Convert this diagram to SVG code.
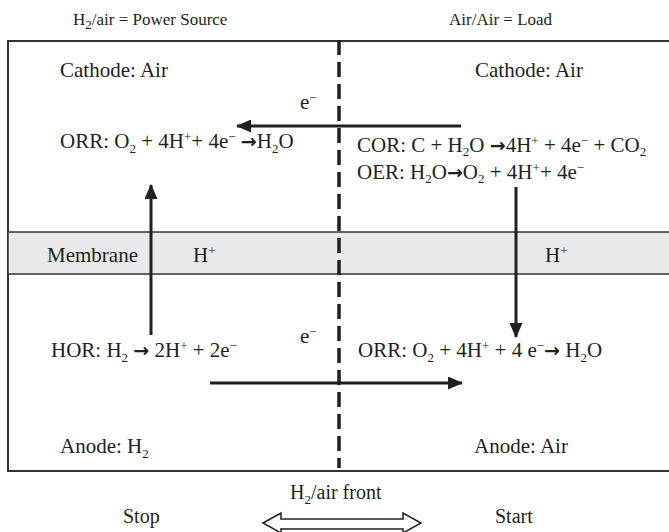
<svg xmlns="http://www.w3.org/2000/svg" width="669" height="532" viewBox="0 0 669 532">
<style>
text{font-family:"Liberation Serif","Times New Roman",serif;font-size:21px;fill:#231f20}
.top{font-size:17px}
.bot{font-size:20px}
.sm{font-size:13px}
.ar{font-family:"DejaVu Sans",sans-serif;font-size:19px;font-weight:bold}
.ln{stroke:#231f20;stroke-width:3;fill:none}
</style>
<defs>
<marker id="ah" markerUnits="userSpaceOnUse" markerWidth="15" markerHeight="13" refX="14" refY="6.5" orient="auto">
<path d="M0,0 L15,6.5 L0,13 z" fill="#231f20"/>
</marker>
</defs>
<rect width="669" height="532" fill="#fff"/>
<g id="frame">
<rect x="8" y="41" width="665" height="430" fill="#fff" stroke="#333" stroke-width="2"/>
</g>
<g id="membrane">
<rect x="8" y="232" width="665" height="42" fill="#e9e9eb" stroke="#333" stroke-width="1.5"/>
<text x="47" y="262">Membrane</text>
<text x="193" y="262">H<tspan class="sm" dy="-7">+</tspan></text>
<text x="545" y="262">H<tspan class="sm" dy="-7">+</tspan></text>
</g>
<g id="headers">
<text class="top" x="73" y="25">H<tspan class="sm" dy="4">2</tspan><tspan dy="-4">/air = Power Source</tspan></text>
<text class="top" x="449" y="25">Air/Air = Load</text>
</g>
<g id="cathode-left">
<text x="60" y="77">Cathode: Air</text>
<text x="60" y="148">ORR: O<tspan class="sm" dy="5">2</tspan><tspan dy="-5"> + 4H</tspan><tspan class="sm" dy="-7">+</tspan><tspan dy="7">+ 4e</tspan><tspan class="sm" dy="-7">−</tspan><tspan dy="7"> </tspan><tspan class="ar">→</tspan>H<tspan class="sm" dy="5">2</tspan><tspan dy="-5">O</tspan></text>
</g>
<g id="cathode-right">
<text x="475" y="77">Cathode: Air</text>
<text x="357" y="152">COR: C + H<tspan class="sm" dy="4">2</tspan><tspan dy="-4">O </tspan><tspan class="ar">→</tspan>4H<tspan class="sm" dy="-7">+</tspan><tspan dy="7"> + 4e</tspan><tspan class="sm" dy="-7">−</tspan><tspan dy="7"> + CO</tspan><tspan class="sm" dy="4">2</tspan></text>
<text x="357" y="179">OER: H<tspan class="sm" dy="4">2</tspan><tspan dy="-4">O</tspan><tspan class="ar">→</tspan>O<tspan class="sm" dy="4">2</tspan><tspan dy="-4"> + 4H</tspan><tspan class="sm" dy="-7">+</tspan><tspan dy="7">+ 4e</tspan><tspan class="sm" dy="-7">−</tspan></text>
</g>
<g id="anode-left">
<text x="51" y="357">HOR: H<tspan class="sm" dy="5">2</tspan><tspan dy="-5"> </tspan><tspan class="ar">→</tspan> 2H<tspan class="sm" dy="-7">+</tspan><tspan dy="7"> + 2e</tspan><tspan class="sm" dy="-7">−</tspan></text>
<text x="60" y="453">Anode: H<tspan class="sm" dy="5">2</tspan></text>
</g>
<g id="anode-right">
<text x="358" y="357">ORR: O<tspan class="sm" dy="5">2</tspan><tspan dy="-5"> + 4H</tspan><tspan class="sm" dy="-7">+</tspan><tspan dy="7"> + 4 e</tspan><tspan class="sm" dy="-7">−</tspan><tspan class="ar" dy="7">→</tspan> H<tspan class="sm" dy="5">2</tspan><tspan dy="-5">O</tspan></text>
<text x="474" y="453">Anode: Air</text>
</g>
<g id="labels-e">
<text x="300" y="109">e<tspan class="sm" dy="-7">−</tspan></text>
<text x="300" y="343">e<tspan class="sm" dy="-7">−</tspan></text>
</g>
<g id="front">
<text class="bot" x="290" y="499">H<tspan class="sm" dy="5">2</tspan><tspan dy="-5">/air front</tspan></text>
<text class="bot" x="123" y="523">Stop</text>
<text class="bot" x="495" y="523">Start</text>
<path d="M263,523 L281,513 L281,519 L403,519 L403,513 L421,523 L403,533 L403,529 L281,529 L281,533 z" fill="#fff" stroke="#231f20" stroke-width="1.5"/>
</g>
<g id="connectors">
<line x1="339" y1="40" x2="339" y2="468" stroke="#231f20" stroke-width="3.5" stroke-dasharray="15,7"/>
<line class="ln" x1="461" y1="126" x2="237" y2="126" marker-end="url(#ah)"/>
<line class="ln" x1="151" y1="335" x2="151" y2="185" marker-end="url(#ah)"/>
<line class="ln" x1="516" y1="187" x2="516" y2="337" marker-end="url(#ah)"/>
<line class="ln" x1="210" y1="383" x2="462" y2="383" marker-end="url(#ah)"/>
</g>
</svg>
